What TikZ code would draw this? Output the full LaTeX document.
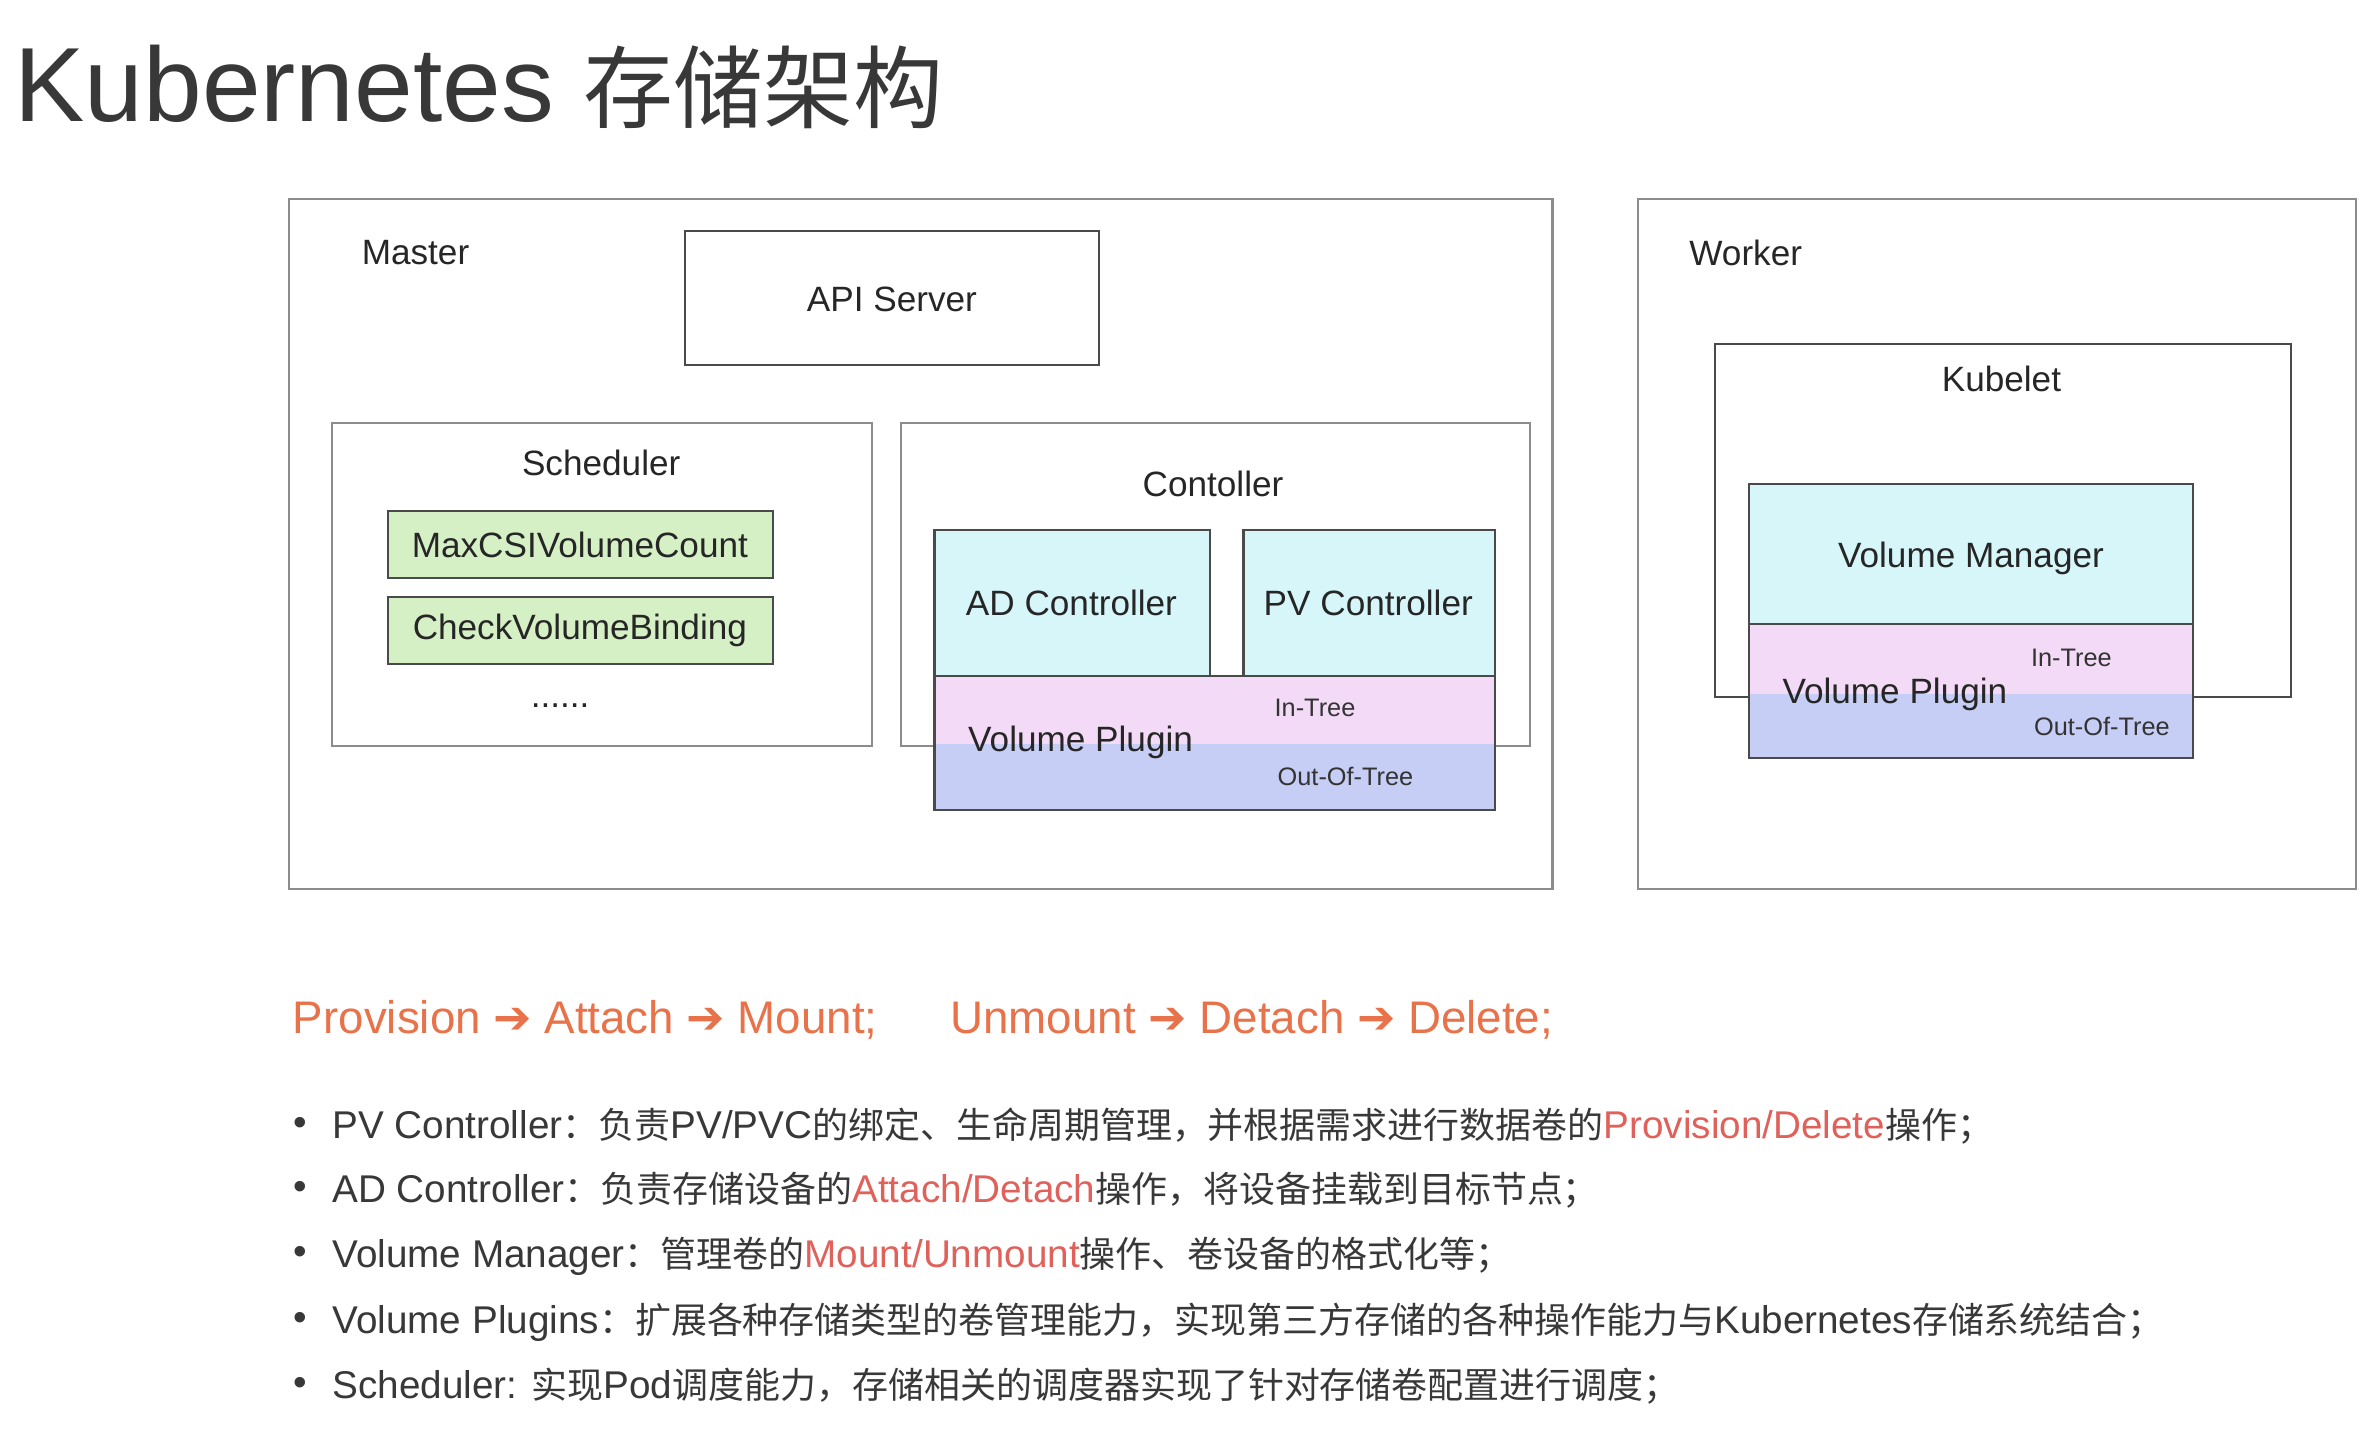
\documentclass[tikz,border=0pt]{standalone}
\usepackage{fontspec}
\setmainfont{Liberation Sans}
\newfontfamily\zh[Scale=0.93]{Noto Sans CJK SC}
\newfontfamily\arrowfont{DejaVu Sans}

\definecolor{framegray}{HTML}{8C8C8C}
\definecolor{boxgray}{HTML}{4A4A4A}
\definecolor{cyanfill}{HTML}{D6F6FA}
\definecolor{pinkfill}{HTML}{F3DAF6}
\definecolor{bluefill}{HTML}{C6CEF5}
\definecolor{greenfill}{HTML}{D6F0C6}
\definecolor{flow}{HTML}{E8724A}
\definecolor{hl}{HTML}{E0605A}
\definecolor{txt}{HTML}{383838}

\tikzset{
  frame/.style={draw=framegray, line width=0.6pt},
  inner/.style={draw=boxgray, line width=0.6pt},
  lbl/.style={font=\fontsize{10}{12}\selectfont, text=black!85},
  small/.style={font=\fontsize{7.2}{9}\selectfont, text=black!80},
  item/.style={anchor=base west, inner sep=0pt, font=\fontsize{11}{13}\selectfont, text=txt}
}

\begin{document}
\begin{tikzpicture}[x=0.01522cm, y=-0.01522cm]
    \useasboundingbox (0,0) rectangle (1559.8,942.2);

    % title
    \node[anchor=base west, inner sep=0pt, text=black!78, font=\fontsize{30}{35}\selectfont] (title) at (9,80) {Kubernetes {\zh\fontsize{27.5}{35}\selectfont 存储架构}};

    % draw the master side
    \draw[frame] (190,131) rectangle (1020,584);
    \node[lbl] (master) at (273,166) {Master};
    \draw[inner] (450,152) rectangle (722,240);
    \node[lbl] (api) at (586,197) {API Server};

    \draw[frame] (218,278) rectangle (573,490);
    \node[lbl] (sched) at (395,304) {Scheduler};
    \filldraw[fill=greenfill, draw=boxgray, line width=0.6pt] (255,336) rectangle (508,380);
    \node[lbl] (maxcsi) at (381,358) {MaxCSIVolumeCount};
    \filldraw[fill=greenfill, draw=boxgray, line width=0.6pt] (255,392) rectangle (508,436);
    \node[lbl] (checkvb) at (381,414) {CheckVolumeBinding};
    \node[lbl, anchor=base] (more) at (368,465) {......};

    \draw[frame] (592,278) rectangle (1005,490);
    \node[lbl] (ctrl) at (797,318) {Contoller};
    \filldraw[fill=cyanfill, draw=boxgray, line width=0.6pt] (614,348) rectangle (795,444);
    \node[lbl] (adctrl) at (704,396) {AD Controller};
    \filldraw[fill=cyanfill, draw=boxgray, line width=0.6pt] (817,348) rectangle (982,444);
    \node[lbl] (pvctrl) at (899,396) {PV Controller};
    % the volume plugin (in-tree on top, out-of-tree below)
    \fill[pinkfill] (614,444) rectangle (982,489);
    \fill[bluefill] (614,489) rectangle (982,532);
    \draw[inner] (614,444) rectangle (982,532);
    \node[lbl] (plugm) at (710,488) {Volume Plugin};
    \node[small] (intreem) at (864,465) {In-Tree};
    \node[small] (outtreem) at (884,510) {Out-Of-Tree};

    % draw the worker side
    \draw[frame] (1076,131) rectangle (1548,584);
    \node[lbl] (worker) at (1147,166) {Worker};
    \draw[inner] (1127,226) rectangle (1505,458);
    \node[lbl] (kubelet) at (1315,249) {Kubelet};
    \filldraw[fill=cyanfill, draw=boxgray, line width=0.6pt] (1149,318) rectangle (1441,410);
    \node[lbl] (volmgr) at (1295,367) {Volume Manager};
    \fill[pinkfill] (1149,410) rectangle (1441,456);
    \fill[bluefill] (1149,456) rectangle (1441,498);
    \draw[inner] (1149,410) rectangle (1441,498);
    \draw[boxgray, line width=0.6pt] (1149,410) -- (1441,410);
    \node[lbl] (plugw) at (1245,456) {Volume Plugin};
    \node[small] (intreew) at (1361,432) {In-Tree};
    \node[small] (outtreew) at (1381,477) {Out-Of-Tree};

    % the life cycle
    \node[anchor=base west, inner sep=0pt, text=flow, font=\fontsize{13}{15}\selectfont] (flowup) at (192,679)
        {Provision {\arrowfont ➔} Attach {\arrowfont ➔} Mount;};
    \node[anchor=base west, inner sep=0pt, text=flow, font=\fontsize{13}{15}\selectfont] (flowdown) at (624,679)
        {Unmount {\arrowfont ➔} Detach {\arrowfont ➔} Delete;};

    % the notes
    \foreach \y [count=\i] in {740,782,825,868,911}
        \node[text=txt, font=\fontsize{11}{13}\selectfont, inner sep=0pt] (dot\i) at (197,\y) {•};
    \node[item] (note1) at (218,748) {PV Controller{\zh ：负责}PV/PVC{\zh 的绑定、生命周期管理，并根据需求进行数据卷的}{\color{hl}Provision/Delete}{\zh 操作；}};
    \node[item] (note2) at (218,790) {AD Controller{\zh ：负责存储设备的}{\color{hl}Attach/Detach}{\zh 操作，将设备挂载到目标节点；}};
    \node[item] (note3) at (218,833) {Volume Manager{\zh ：管理卷的}{\color{hl}Mount/Unmount}{\zh 操作、卷设备的格式化等；}};
    \node[item] (note4) at (218,876) {Volume Plugins{\zh ：扩展各种存储类型的卷管理能力，实现第三方存储的各种操作能力与}Kubernetes{\zh 存储系统结合；}};
    \node[item] (note5) at (218,919) {Scheduler: {\zh 实现}Pod{\zh 调度能力，存储相关的调度器实现了针对存储卷配置进行调度；}};
\end{tikzpicture}
\end{document}
